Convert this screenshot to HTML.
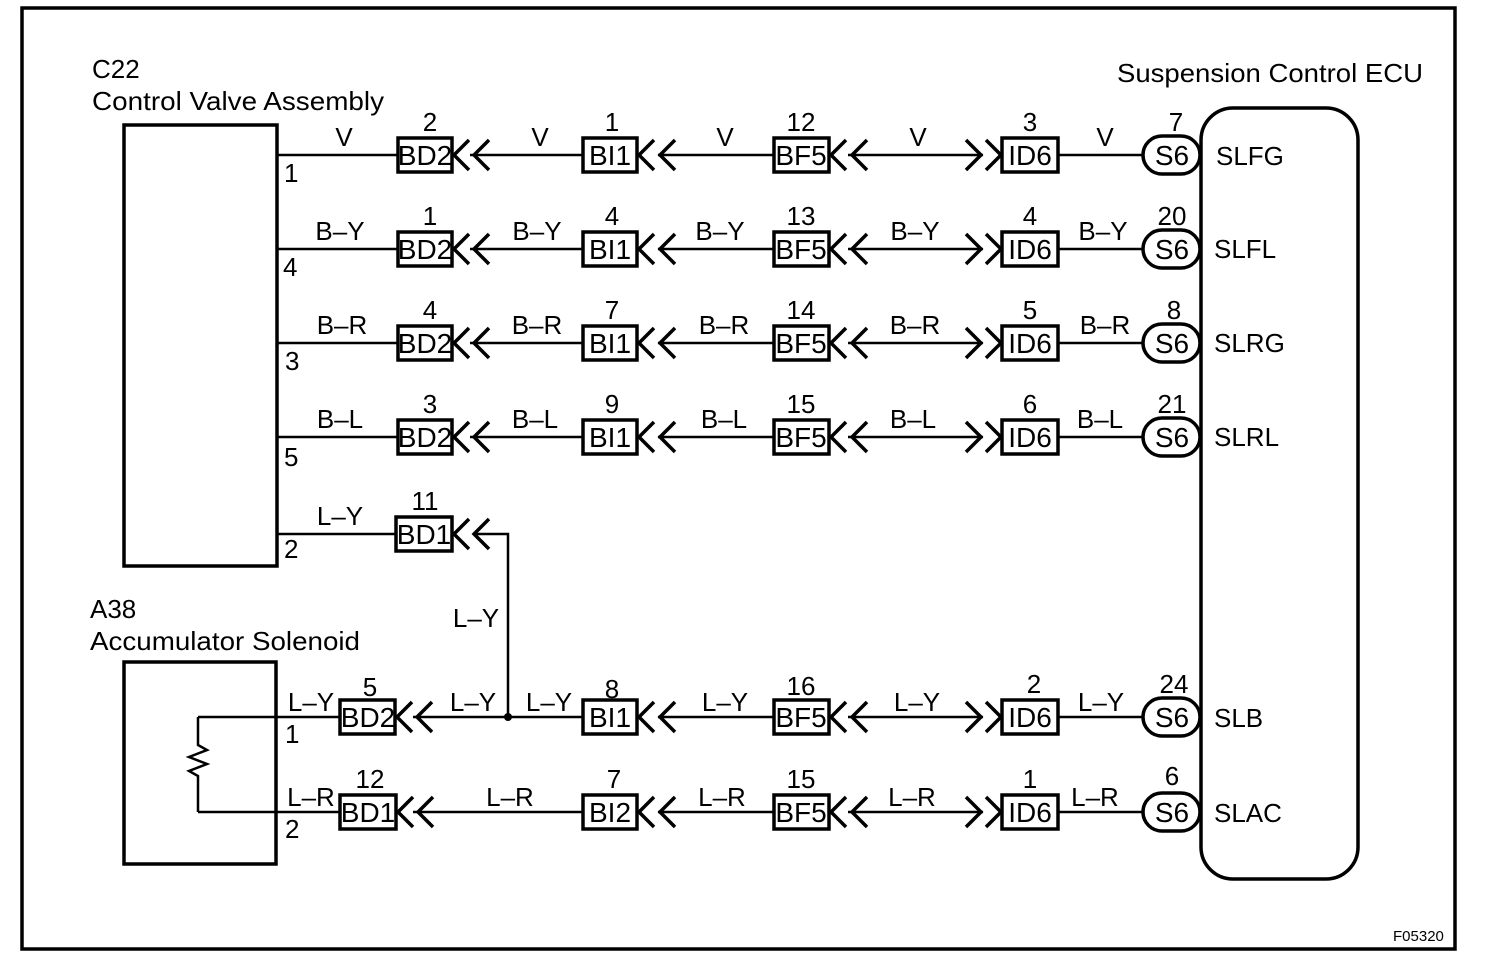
<!DOCTYPE html>
<html><head><meta charset="utf-8"><style>
html,body{margin:0;padding:0;background:#fff;}
svg{display:block;}
text{font-family:"Liberation Sans",sans-serif;fill:#000;}
.t{font-size:26px;}
.bx{font-size:26px;}
.bl{font-size:28px;}
.ln{stroke:#000;stroke-width:2.5;fill:none;}
.th{stroke:#000;stroke-width:3.5;fill:none;}
.bk{stroke:#000;stroke-width:3.5;fill:#fff;}
</style></head><body>
<svg width="1504" height="970" viewBox="0 0 1504 970" xmlns="http://www.w3.org/2000/svg">
<defs>
<path id="cl" d="M16,-15 L1,0 L16,15" stroke="#000" stroke-width="3.5" fill="none"/>
<path id="cr" d="M0,-15 L15,0 L0,15" stroke="#000" stroke-width="3.5" fill="none"/>
</defs>
<rect x="22" y="8" width="1433" height="941" class="th"/>
<text x="92" y="78" class="t">C22</text>
<text x="92" y="110" class="t" textLength="292" lengthAdjust="spacingAndGlyphs">Control Valve Assembly</text>
<text x="90" y="618" class="t">A38</text>
<text x="90" y="650" class="t" textLength="270" lengthAdjust="spacingAndGlyphs">Accumulator Solenoid</text>
<text x="1117" y="82" class="t" textLength="306" lengthAdjust="spacingAndGlyphs">Suspension Control ECU</text>
<text x="1393" y="941" style="font-size:15px">F05320</text>
<rect x="124" y="125" width="153" height="441" class="th"/>
<rect x="124" y="662" width="152" height="202" class="th"/>
<rect x="1201" y="108" width="157" height="771" rx="32" class="th"/>

<g id="r1" transform="translate(0,155)">
<line x1="277" y1="0" x2="398" y2="0" class="ln"/>
<line x1="470" y1="0" x2="583" y2="0" class="ln"/>
<line x1="658" y1="0" x2="773" y2="0" class="ln"/>
<line x1="848" y1="0" x2="983" y2="0" class="ln"/>
<line x1="1058" y1="0" x2="1143" y2="0" class="ln"/>
<rect x="398" y="-17" width="54" height="34" class="bk"/>
<rect x="583" y="-17" width="54" height="34" class="bk"/>
<rect x="774" y="-17" width="55" height="34" class="bk"/>
<rect x="1002" y="-17" width="56" height="34" class="bk"/>
<rect x="1143" y="-19" width="57" height="38" rx="19" class="bk"/>
<use href="#cl" x="453" y="0"/><use href="#cl" x="473" y="0"/>
<use href="#cl" x="638" y="0"/><use href="#cl" x="659" y="0"/>
<use href="#cl" x="830" y="0"/><use href="#cl" x="851" y="0"/>
<use href="#cr" x="966" y="0"/><use href="#cr" x="986" y="0"/>
</g>
<use href="#r1" y="94"/><use href="#r1" y="188"/><use href="#r1" y="282"/>
<g transform="translate(0,717)">
<line x1="198" y1="0" x2="340" y2="0" class="ln"/>
<line x1="413" y1="0" x2="583" y2="0" class="ln"/>
<line x1="658" y1="0" x2="773" y2="0" class="ln"/>
<line x1="848" y1="0" x2="983" y2="0" class="ln"/>
<line x1="1058" y1="0" x2="1143" y2="0" class="ln"/>
<rect x="340" y="-17" width="55" height="34" class="bk"/>
<rect x="583" y="-17" width="54" height="34" class="bk"/>
<rect x="774" y="-17" width="55" height="34" class="bk"/>
<rect x="1002" y="-17" width="56" height="34" class="bk"/>
<rect x="1143" y="-19" width="57" height="38" rx="19" class="bk"/>
<use href="#cl" x="396" y="0"/><use href="#cl" x="416" y="0"/>
<use href="#cl" x="638" y="0"/><use href="#cl" x="659" y="0"/>
<use href="#cl" x="830" y="0"/><use href="#cl" x="851" y="0"/>
<use href="#cr" x="966" y="0"/><use href="#cr" x="986" y="0"/>
</g>
<g transform="translate(0,812)">
<line x1="198" y1="0" x2="340" y2="0" class="ln"/>
<line x1="413" y1="0" x2="583" y2="0" class="ln"/>
<line x1="658" y1="0" x2="773" y2="0" class="ln"/>
<line x1="848" y1="0" x2="983" y2="0" class="ln"/>
<line x1="1058" y1="0" x2="1143" y2="0" class="ln"/>
<rect x="340" y="-17" width="56" height="34" class="bk"/>
<rect x="583" y="-17" width="54" height="34" class="bk"/>
<rect x="774" y="-17" width="55" height="34" class="bk"/>
<rect x="1002" y="-17" width="56" height="34" class="bk"/>
<rect x="1143" y="-19" width="57" height="38" rx="19" class="bk"/>
<use href="#cl" x="397" y="0"/><use href="#cl" x="417" y="0"/>
<use href="#cl" x="638" y="0"/><use href="#cl" x="659" y="0"/>
<use href="#cl" x="830" y="0"/><use href="#cl" x="851" y="0"/>
<use href="#cr" x="966" y="0"/><use href="#cr" x="986" y="0"/>
</g>
<line x1="277" y1="534" x2="396" y2="534" class="ln"/>
<rect x="396" y="517" width="56" height="34" class="bk"/>
<use href="#cl" x="453" y="534"/><use href="#cl" x="473" y="534"/>
<polyline points="475,534 508,534 508,717" class="ln"/>
<circle cx="508" cy="717" r="4"/>
<polyline points="198,717 198,745 207,750 189,757 207,764 189,771 198,776 198,812" class="ln"/>

<g class="bl" text-anchor="middle">
<text x="425" y="165">BD2</text><text x="610" y="165">BI1</text><text x="801" y="165">BF5</text><text x="1030" y="165">ID6</text><text x="1172" y="165">S6</text>
<text x="425" y="259">BD2</text><text x="610" y="259">BI1</text><text x="801" y="259">BF5</text><text x="1030" y="259">ID6</text><text x="1172" y="259">S6</text>
<text x="425" y="353">BD2</text><text x="610" y="353">BI1</text><text x="801" y="353">BF5</text><text x="1030" y="353">ID6</text><text x="1172" y="353">S6</text>
<text x="425" y="447">BD2</text><text x="610" y="447">BI1</text><text x="801" y="447">BF5</text><text x="1030" y="447">ID6</text><text x="1172" y="447">S6</text>
<text x="424" y="544">BD1</text>
<text x="368" y="727">BD2</text><text x="610" y="727">BI1</text><text x="801" y="727">BF5</text><text x="1030" y="727">ID6</text><text x="1172" y="727">S6</text>
<text x="368" y="822">BD1</text><text x="610" y="822">BI2</text><text x="801" y="822">BF5</text><text x="1030" y="822">ID6</text><text x="1172" y="822">S6</text>
</g>
<g class="bx" text-anchor="middle">
<text x="430" y="131">2</text><text x="612" y="131">1</text><text x="801" y="131">12</text><text x="1030" y="131">3</text><text x="1176" y="131">7</text>
<text x="430" y="225">1</text><text x="612" y="225">4</text><text x="801" y="225">13</text><text x="1030" y="225">4</text><text x="1172" y="225">20</text>
<text x="430" y="319">4</text><text x="612" y="319">7</text><text x="801" y="319">14</text><text x="1030" y="319">5</text><text x="1174" y="319">8</text>
<text x="430" y="413">3</text><text x="612" y="413">9</text><text x="801" y="413">15</text><text x="1030" y="413">6</text><text x="1172" y="413">21</text>
<text x="425" y="510">11</text>
<text x="370" y="696">5</text><text x="612" y="698">8</text><text x="801" y="695">16</text><text x="1034" y="693">2</text><text x="1174" y="693">24</text>
<text x="370" y="788">12</text><text x="614" y="788">7</text><text x="801" y="788">15</text><text x="1030" y="788">1</text><text x="1172" y="785">6</text>
<text x="344" y="146">V</text><text x="540" y="146">V</text><text x="725" y="146">V</text><text x="918" y="146">V</text><text x="1105" y="146">V</text>
<text x="340" y="240">B–Y</text><text x="537" y="240">B–Y</text><text x="720" y="240">B–Y</text><text x="915" y="240">B–Y</text><text x="1103" y="240">B–Y</text>
<text x="342" y="334">B–R</text><text x="537" y="334">B–R</text><text x="724" y="334">B–R</text><text x="915" y="334">B–R</text><text x="1105" y="334">B–R</text>
<text x="340" y="428">B–L</text><text x="535" y="428">B–L</text><text x="724" y="428">B–L</text><text x="913" y="428">B–L</text><text x="1100" y="428">B–L</text>
<text x="340" y="525">L–Y</text>
<text x="476" y="627">L–Y</text>
<text x="311" y="711">L–Y</text><text x="473" y="711">L–Y</text><text x="549" y="711">L–Y</text><text x="725" y="711">L–Y</text><text x="917" y="711">L–Y</text><text x="1101" y="711">L–Y</text>
<text x="311" y="806">L–R</text><text x="510" y="806">L–R</text><text x="722" y="806">L–R</text><text x="912" y="806">L–R</text><text x="1095" y="806">L–R</text>
</g>
<g class="t">
<text x="284" y="182">1</text><text x="283" y="276">4</text><text x="285" y="370">3</text><text x="284" y="466">5</text><text x="284" y="558">2</text>
<text x="285" y="743">1</text><text x="285" y="838">2</text>
<text x="1216" y="165">SLFG</text><text x="1214" y="258">SLFL</text><text x="1214" y="352">SLRG</text><text x="1214" y="446">SLRL</text>
<text x="1214" y="727">SLB</text><text x="1214" y="822">SLAC</text>
</g>
</svg>
</body></html>
